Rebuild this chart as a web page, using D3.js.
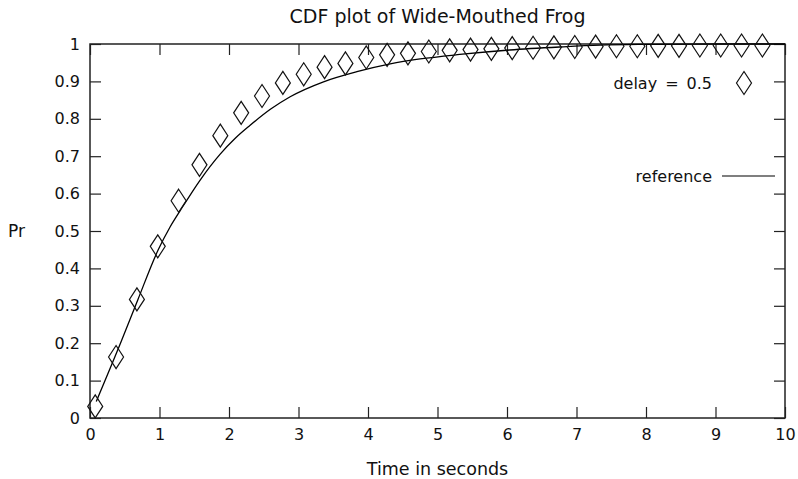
<!DOCTYPE html>
<html>
<head>
<meta charset="utf-8">
<script src="https://cdn.jsdelivr.net/npm/d3@7"></script>
<style>
  body { margin: 0; background: #fff; }
  text { font-family: "DejaVu Sans", "Liberation Sans", sans-serif; font-size: 16px; fill: #111; }
</style>
</head>
<body>
<div class="bg"></div>
<script>
const margin = { top: 44, right: 13, bottom: 61, left: 90 };
const width = 798 - margin.left - margin.right;
const height = 479 - margin.top - margin.bottom;

// measured points (diamonds), "delay = 0.5"
const delayTimes = [0.075, 0.375, 0.675, 0.975, 1.275, 1.575, 1.875, 2.175, 2.475, 2.775,
  3.075, 3.375, 3.675, 3.975, 4.275, 4.575, 4.875, 5.175, 5.475, 5.775,
  6.075, 6.375, 6.675, 6.975, 7.275, 7.575, 7.875, 8.175, 8.475, 8.775,
  9.075, 9.375, 9.675];
const delayPr = [0.031, 0.163, 0.317, 0.459, 0.581, 0.677, 0.755, 0.816, 0.861, 0.896,
  0.919, 0.938, 0.948, 0.964, 0.971, 0.975, 0.980, 0.983, 0.985, 0.987,
  0.989, 0.990, 0.991, 0.992, 0.993, 0.994, 0.994, 0.995, 0.995, 0.996,
  0.996, 0.996, 0.996];

// reference curve
const refTimes = [0.09, 0.45, 0.69, 0.98, 1.15, 1.30, 1.58, 1.87, 2.09, 2.30, 2.60, 2.88,
  3.36, 3.84, 4.32, 4.75, 5.32, 6.04, 6.76, 7.34, 8, 9, 10];
const refPr = [0.044, 0.205, 0.317, 0.449, 0.51, 0.555, 0.635, 0.705, 0.748, 0.782, 0.826, 0.859,
  0.899, 0.926, 0.947, 0.960, 0.972, 0.984, 0.992, 0.997, 0.999, 1, 1];

const xTicks = [0, 1, 2, 3, 4, 5, 6, 7, 8, 9, 10];
const yTicks = [0, 0.1, 0.2, 0.3, 0.4, 0.5, 0.6, 0.7, 0.8, 0.9, 1];

const svg = d3.select(".bg").append("svg")
  .attr("width", 798)
  .attr("height", 479)
  .append("g")
  .attr("transform", "translate(" + margin.left + "," + margin.top + ")");

const xScale = d3.scaleLinear().domain([0, 10]).range([0, width]);
const yScale = d3.scaleLinear().domain([0, 1]).range([height, 0]);

const fmt = d => String(+d.toFixed(1));
const tick = 11;

// axes, ticks pointing inward on all four sides
function styleAxis(g) {
  g.select(".domain").remove();
  g.selectAll("line").attr("stroke", "#222").attr("stroke-width", 1.2);
  g.selectAll("text").style("font-size", "16px").attr("fill", "#111");
  g.attr("font-family", null).attr("font-size", null);
}

svg.append("g")
  .attr("transform", "translate(0," + height + ")")
  .call(d3.axisBottom(xScale).tickValues(xTicks).tickFormat(fmt).tickSizeInner(-tick).tickPadding(11))
  .call(styleAxis);

svg.append("g")
  .call(d3.axisTop(xScale).tickValues(xTicks).tickFormat("").tickSizeInner(-tick))
  .call(styleAxis);

svg.append("g")
  .call(d3.axisLeft(yScale).tickValues(yTicks).tickFormat(fmt).tickSizeInner(-tick).tickPadding(10))
  .call(styleAxis);

svg.append("g")
  .attr("transform", "translate(" + width + ",0)")
  .call(d3.axisRight(yScale).tickValues(yTicks).tickFormat("").tickSizeInner(-tick))
  .call(styleAxis);

svg.append("rect")
  .attr("width", width)
  .attr("height", height)
  .attr("fill", "none")
  .attr("stroke", "#222")
  .attr("stroke-width", 1.5);

// reference line
const refData = refTimes.map((t, i) => ({ t: t, p: refPr[i] }));
svg.append("path")
  .datum(refData)
  .attr("fill", "none")
  .attr("stroke", "#000")
  .attr("stroke-width", 1.3)
  .attr("d", d3.line().x(d => xScale(d.t)).y(d => yScale(d.p)).curve(d3.curveMonotoneX));

// diamonds
const diamond = "M0,-11.5L7.5,0L0,11.5L-7.5,0Z";
const delayData = delayTimes.map((t, i) => ({ t: t, p: delayPr[i] }));
svg.selectAll(".pt")
  .data(delayData)
  .enter().append("path")
  .attr("class", "pt")
  .attr("transform", d => "translate(" + xScale(d.t) + "," + yScale(d.p) + ")")
  .attr("d", diamond)
  .attr("fill", "none")
  .attr("stroke", "#111")
  .attr("stroke-width", 1.2);

// legend
svg.append("text")
  .attr("x", 622).attr("y", 39)
  .attr("dy", "0.35em")
  .attr("text-anchor", "end")
  .text("delay\u2002=\u20020.5");
svg.append("path")
  .attr("transform", "translate(654,39)")
  .attr("d", diamond)
  .attr("fill", "none")
  .attr("stroke", "#111")
  .attr("stroke-width", 1.2);

svg.append("text")
  .attr("x", 622).attr("y", 132)
  .attr("dy", "0.35em")
  .attr("text-anchor", "end")
  .text("reference");
svg.append("line")
  .attr("x1", 632).attr("x2", 685)
  .attr("y1", 132).attr("y2", 132)
  .attr("stroke", "#000")
  .attr("stroke-width", 1.2);

// titles
svg.append("text")
  .attr("x", width / 2).attr("y", -21)
  .attr("text-anchor", "middle")
  .style("font-size", "19px")
  .text("CDF plot of Wide-Mouthed Frog");

svg.append("text")
  .attr("x", width / 2).attr("y", height + 57)
  .attr("text-anchor", "middle")
  .style("font-size", "17.5px")
  .text("Time in seconds");

svg.append("text")
  .attr("x", -82).attr("y", height / 2)
  .attr("dy", "0.35em")
  .style("font-size", "17px")
  .text("Pr");
</script>
</body>
</html>
